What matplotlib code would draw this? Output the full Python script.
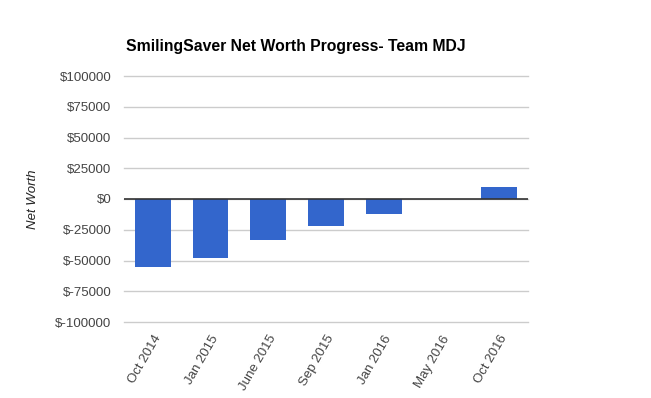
import matplotlib
matplotlib.use("Agg")
import matplotlib.pyplot as plt
from matplotlib.ticker import FuncFormatter

categories = ["Oct 2014", "Jan 2015", "June 2015", "Sep 2015", "Jan 2016", "May 2016", "Oct 2016"]
net_worth = [-55000, -48000, -33000, -22000, -12500, 300, 10000]
yticks = [-100000, -75000, -50000, -25000, 0, 25000, 50000, 75000, 100000]

plt.rcParams['font.family'] = ['Liberation Sans', 'DejaVu Sans']

fig = plt.figure(figsize=(6.51, 3.98), dpi=100)
ax = fig.add_axes([124/651, 1 - 322/398, 404/651, 246/398])

x = list(range(len(categories)))
ax.bar(x, net_worth, width=0.62, color="#3366cc", zorder=3)

ax.set_xlim(-0.5, len(categories) - 0.5)
ax.set_ylim(-100000, 100000)
ax.set_yticks(yticks)
ax.yaxis.set_major_formatter(FuncFormatter(lambda v, p: f"${int(v)}"))
ax.grid(axis='y', color="#cccccc", linewidth=1, zorder=0)
for gl in ax.get_ygridlines():
    gl.set_clip_on(False)
ax.axhline(0, color="#333333", linewidth=1.2, zorder=4)
for s in ax.spines.values():
    s.set_visible(False)
ax.tick_params(axis='both', length=0, labelsize=9.5, labelcolor="#444444")
ax.tick_params(axis='y', pad=9)
ax.set_xticks(x)
ax.set_xticklabels(categories, rotation=60, ha='right', va='top', rotation_mode='anchor')
ax.tick_params(axis='x', pad=8)

ax.set_ylabel("Net Worth", fontstyle='italic', fontsize=9.5, color="#222222")
ax.yaxis.set_label_coords(-0.21, 0.5)

fig.text(126/651, 1 - 47/398, "SmilingSaver Net Worth Progress- Team MDJ",
         fontsize=11.3, fontweight='bold', color='black', ha='left', va='center')

fig.savefig("out.png", dpi=100)
